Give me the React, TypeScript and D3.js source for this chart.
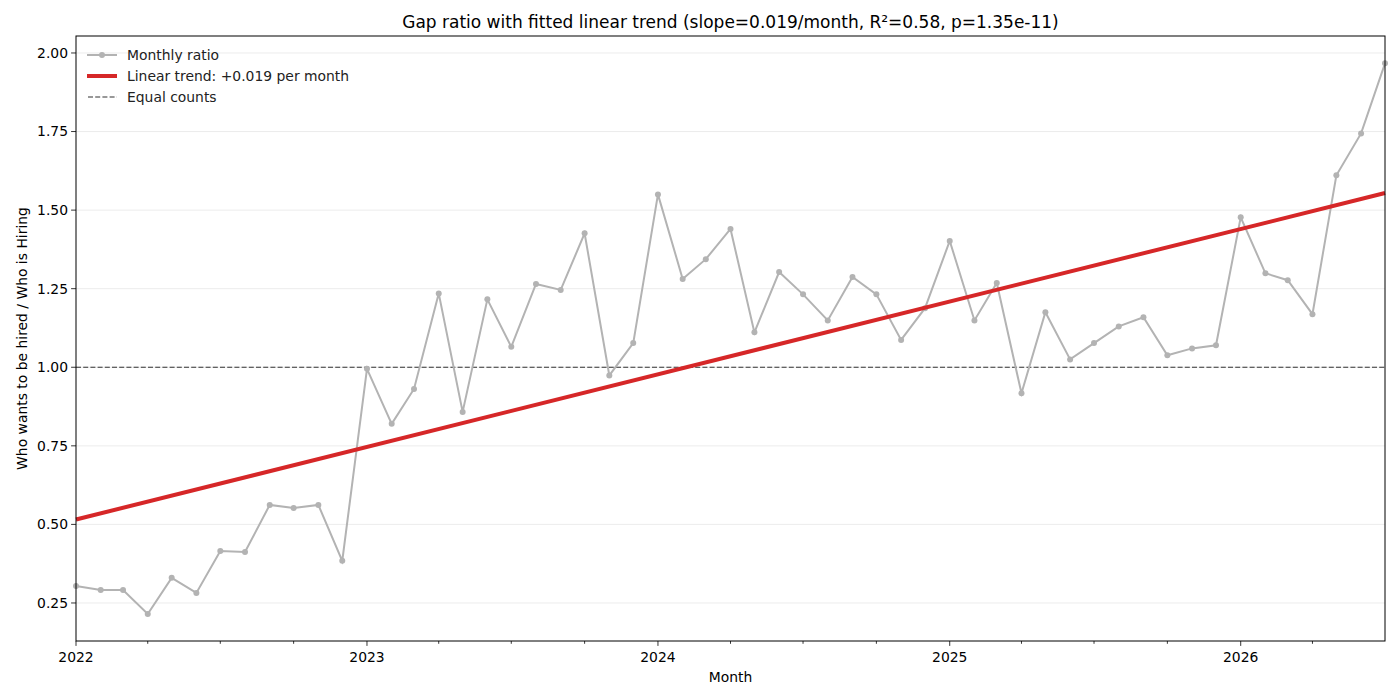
import { useEffect, useRef } from "react";
import * as d3 from "d3";

// months from 2022-01 to 2026-07
const months = [
  "2022-01", "2022-02", "2022-03", "2022-04", "2022-05", "2022-06",
  "2022-07", "2022-08", "2022-09", "2022-10", "2022-11", "2022-12",
  "2023-01", "2023-02", "2023-03", "2023-04", "2023-05", "2023-06",
  "2023-07", "2023-08", "2023-09", "2023-10", "2023-11", "2023-12",
  "2024-01", "2024-02", "2024-03", "2024-04", "2024-05", "2024-06",
  "2024-07", "2024-08", "2024-09", "2024-10", "2024-11", "2024-12",
  "2025-01", "2025-02", "2025-03", "2025-04", "2025-05", "2025-06",
  "2025-07", "2025-08", "2025-09", "2025-10", "2025-11", "2025-12",
  "2026-01", "2026-02", "2026-03", "2026-04", "2026-05", "2026-06",
  "2026-07",
];

const ratios = [
  0.304, 0.291, 0.291, 0.215, 0.330, 0.282, 0.415, 0.412, 0.562, 0.552, 0.562, 0.384,
  0.995, 0.820, 0.931, 1.235, 0.858, 1.216, 1.065, 1.265, 1.246, 1.426, 0.974, 1.077,
  1.550, 1.281, 1.344, 1.440, 1.111, 1.303, 1.232, 1.149, 1.287, 1.232, 1.087, 1.188,
  1.402, 1.149, 1.268, 0.917, 1.175, 1.025, 1.077, 1.130, 1.159, 1.038, 1.060, 1.070,
  1.477, 1.299, 1.277, 1.169, 1.611, 1.744, 1.967,
];

const yTicks = [0.25, 0.5, 0.75, 1.0, 1.25, 1.5, 1.75, 2.0];
const xTickYears = [2022, 2023, 2024, 2025, 2026];

const titleText = "Gap ratio with fitted linear trend (slope=0.019/month, R²=0.58, p=1.35e-11)";
const legendLabels = ["Monthly ratio", "Linear trend: +0.019 per month", "Equal counts"];

export default function App() {
  const svgRef = useRef<SVGSVGElement | null>(null);
  const width = 1400;
  const height = 700;

  useEffect(() => {
    document.body.style.margin = "0";
    if (!svgRef.current) return;
    const marginTop = 36;
    const marginRight = 15;
    const marginBottom = 59;
    const marginLeft = 76;
    const font = "DejaVu Sans, sans-serif";

    const parse = d3.utcParse("%Y-%m");
    const data = months.map((m, i) => ({ date: parse(m) as Date, value: ratios[i] }));

    const x = d3.scaleUtc([data[0].date, data[data.length - 1].date], [marginLeft, width - marginRight]);
    const y = d3.scaleLinear([0.129, 2.054], [height - marginBottom, marginTop]);

    // least squares fit on month index
    const n = data.length;
    const idx = d3.range(n);
    const mx = d3.mean(idx) as number;
    const my = d3.mean(ratios) as number;
    const slope = d3.sum(idx, i => (i - mx) * (ratios[i] - my)) / d3.sum(idx, i => (i - mx) ** 2);
    const intercept = my - slope * mx;

    const svg = d3.select(svgRef.current);
    svg.selectAll("*").remove();

    // grid
    svg.append("g")
      .selectAll("line")
      .data(yTicks)
      .join("line")
      .attr("x1", marginLeft)
      .attr("x2", width - marginRight)
      .attr("y1", d => y(d))
      .attr("y2", d => y(d))
      .attr("stroke", "#b0b0b0")
      .attr("stroke-opacity", 0.3)
      .attr("stroke-width", 0.8);

    // equal counts line
    svg.append("line")
      .attr("x1", marginLeft)
      .attr("x2", width - marginRight)
      .attr("y1", y(1))
      .attr("y2", y(1))
      .attr("stroke", "#333")
      .attr("stroke-width", 1.2)
      .attr("stroke-dasharray", "5,2.2");

    // monthly ratio line
    const line = d3.line<{ date: Date; value: number }>()
      .x(d => x(d.date))
      .y(d => y(d.value));
    svg.append("path")
      .attr("fill", "none")
      .attr("stroke", "#b3b3b3")
      .attr("stroke-width", 2)
      .attr("d", line(data));
    svg.append("g")
      .selectAll("circle")
      .data(data)
      .join("circle")
      .attr("cx", d => x(d.date))
      .attr("cy", d => y(d.value))
      .attr("r", 3)
      .attr("fill", "#b3b3b3");

    // trend line
    svg.append("line")
      .attr("x1", x(data[0].date))
      .attr("y1", y(intercept))
      .attr("x2", x(data[n - 1].date))
      .attr("y2", y(intercept + slope * (n - 1)))
      .attr("stroke", "#d62728")
      .attr("stroke-width", 4);

    // spines
    svg.append("rect")
      .attr("x", marginLeft)
      .attr("y", marginTop)
      .attr("width", width - marginLeft - marginRight)
      .attr("height", height - marginTop - marginBottom)
      .attr("fill", "none")
      .attr("stroke", "#000")
      .attr("stroke-width", 1);

    // x axis
    const xAxis = svg.append("g")
      .attr("transform", `translate(0,${height - marginBottom})`)
      .attr("font-family", font)
      .attr("font-size", 13.9);
    const majors = xTickYears.map(yr => new Date(Date.UTC(yr, 0, 1)));
    const minors = d3.utcMonth.every(3)!.range(data[0].date, data[n - 1].date)
      .filter(d => d.getUTCMonth() !== 0);
    xAxis.selectAll("line.minor")
      .data(minors)
      .join("line")
      .attr("class", "minor")
      .attr("x1", d => x(d)).attr("x2", d => x(d))
      .attr("y1", 0).attr("y2", 2.8)
      .attr("stroke", "#000").attr("stroke-width", 0.8);
    xAxis.selectAll("line.major")
      .data(majors)
      .join("line")
      .attr("class", "major")
      .attr("x1", d => x(d)).attr("x2", d => x(d))
      .attr("y1", 0).attr("y2", 4.9)
      .attr("stroke", "#000").attr("stroke-width", 0.8);
    xAxis.selectAll("text")
      .data(majors)
      .join("text")
      .attr("x", d => x(d))
      .attr("y", 21)
      .attr("text-anchor", "middle")
      .attr("fill", "#000")
      .text(d => d3.utcFormat("%Y")(d));

    // y axis
    const yAxis = svg.append("g")
      .attr("font-family", font)
      .attr("font-size", 13.9);
    yAxis.selectAll("line")
      .data(yTicks)
      .join("line")
      .attr("x1", marginLeft - 4.9).attr("x2", marginLeft)
      .attr("y1", d => y(d)).attr("y2", d => y(d))
      .attr("stroke", "#000").attr("stroke-width", 0.8);
    yAxis.selectAll("text")
      .data(yTicks)
      .join("text")
      .attr("x", marginLeft - 8)
      .attr("y", d => y(d))
      .attr("dy", "0.35em")
      .attr("text-anchor", "end")
      .attr("fill", "#000")
      .text(d => d3.format(".2f")(d));

    // labels
    svg.append("text")
      .attr("x", (marginLeft + width - marginRight) / 2)
      .attr("y", 682)
      .attr("text-anchor", "middle")
      .attr("font-family", font)
      .attr("font-size", 13.9)
      .text("Month");
    svg.append("text")
      .attr("transform", `translate(27,${(marginTop + height - marginBottom) / 2}) rotate(-90)`)
      .attr("text-anchor", "middle")
      .attr("font-family", font)
      .attr("font-size", 13.9)
      .text("Who wants to be hired / Who is Hiring");
    svg.append("text")
      .attr("x", (marginLeft + width - marginRight) / 2)
      .attr("y", 28)
      .attr("text-anchor", "middle")
      .attr("font-family", font)
      .attr("font-size", 17)
      .text(titleText);

    // legend (no frame)
    const legend = svg.append("g").attr("font-family", font).attr("font-size", 13.9);
    const rowY = [55, 76, 97];
    legend.append("line")
      .attr("x1", 87).attr("x2", 117).attr("y1", rowY[0]).attr("y2", rowY[0])
      .attr("stroke", "#b3b3b3").attr("stroke-width", 2);
    legend.append("circle")
      .attr("cx", 102).attr("cy", rowY[0]).attr("r", 3).attr("fill", "#b3b3b3");
    legend.append("line")
      .attr("x1", 87).attr("x2", 117).attr("y1", rowY[1]).attr("y2", rowY[1])
      .attr("stroke", "#d62728").attr("stroke-width", 4);
    legend.append("line")
      .attr("x1", 88).attr("x2", 117).attr("y1", rowY[2]).attr("y2", rowY[2])
      .attr("stroke", "#333").attr("stroke-width", 1.2)
      .attr("stroke-dasharray", "5,2.2");
    legend.selectAll("text")
      .data(legendLabels)
      .join("text")
      .attr("x", 127)
      .attr("y", (_, i) => rowY[i])
      .attr("dy", "0.35em")
      .attr("fill", "#222")
      .text(d => d);

    return () => {
      svg.selectAll("*").remove();
    };
  }, []);

  return (
    <svg
      ref={svgRef}
      width={width}
      height={height}
      viewBox={`0 0 ${width} ${height}`}
      style={{ display: "block", background: "#fff" }}
    />
  );
}
